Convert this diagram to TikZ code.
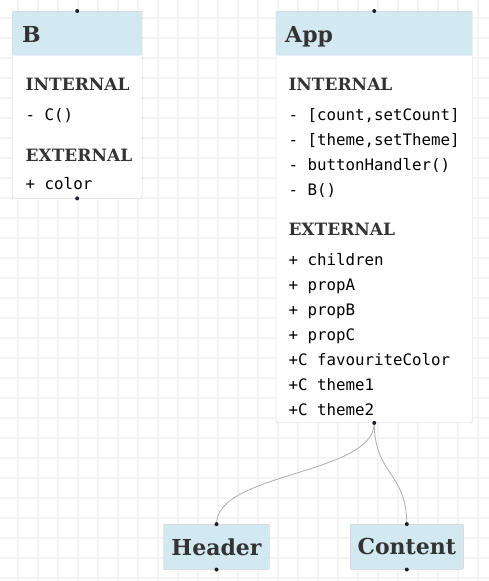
\documentclass[tikz,border=0pt]{standalone}
\usepackage{fontspec}
\setmainfont{DejaVu Serif}
\setmonofont{DejaVu Sans Mono}
\usetikzlibrary{positioning}

\definecolor{headblue}{HTML}{D3E9F1}
\definecolor{boxline}{HTML}{CFCFCF}
\definecolor{gridgray}{HTML}{F4F4F4}
\definecolor{txtgray}{HTML}{333333}
\definecolor{dotnavy}{HTML}{1E1E2C}
\definecolor{wiregray}{HTML}{ADADAD}

\tikzset{
    classbox/.style={draw=boxline, fill=white, rounded corners=2pt, inner sep=0,
        anchor=north west,
        path picture={\fill[headblue] (path picture bounding box.north west)
            rectangle ([yshift=-44.5pt]path picture bounding box.north east);}},
    smallbox/.style={draw=boxline, fill=headblue, rounded corners=1pt, inner sep=0,
        minimum height=45, font=\fontsize{22}{24}\selectfont\bfseries, text=txtgray},
    title/.style={anchor=base west, inner sep=0, text=txtgray,
        font=\fontsize{22}{24}\selectfont\bfseries},
    section/.style={anchor=base west, inner sep=0, text=txtgray,
        font=\fontsize{17}{20}\selectfont\bfseries},
    member/.style={anchor=base west, inner sep=0, text=black,
        font=\fontsize{15.8}{18}\ttfamily},
    wire/.style={draw=wiregray, line width=0.8pt},
    pin/.style={fill=dotnavy}
}

\begin{document}
\begin{tikzpicture}[x=1pt, y=-1pt]
    \useasboundingbox (0,0) rectangle (489,581);
    \fill[white] (0,0) rectangle (489,581);

    % background grid
    \foreach \gx in {18,38,...,478}
        \draw[gridgray, line width=1.3pt] (\gx,0) -- (\gx,581);
    \foreach \gy in {18,38,...,578}
        \draw[gridgray, line width=1.3pt] (0,\gy) -- (489,\gy);

    % B
    \node[classbox, minimum width=130, minimum height=187] (B) at (12,11) {};
    \node[title] (Btitle) at (22,42.7) {B};
    \node[section] (Bint) at (25.5,90) {INTERNAL};
    \node[member] (Bi1) at (25.5,120) {- C()};
    \node[section] (Bext) at (25.5,161) {EXTERNAL};
    \node[member] (Be1) at (25.5,189) {+ color};

    % App
    \node[classbox, minimum width=196.5, minimum height=411.5] (App) at (275.8,11) {};
    \node[title] (Apptitle) at (285,42.7) {App};
    \node[section] (Appint) at (288.3,90) {INTERNAL};
    \foreach \m [count=\i] in {{- [count,setCount]},{- [theme,setTheme]},{- buttonHandler()},{- B()}}
        \node[member] (Appi\i) at (288.3,95+25*\i) {\m};
    \node[section] (Appext) at (288.3,235.7) {EXTERNAL};
    \foreach \m [count=\i] in {+ children,+ propA,+ propB,+ propC,+C favouriteColor,+C theme1,+C theme2}
        \node[member] (Appe\i) at (288.3,240+25*\i) {\m};

    % children
    \node[smallbox, minimum width=106] (Header) at (216.5,546.8) {Header};
    \node[smallbox, minimum width=113] (Content) at (406.8,546.8) {Content};

    % connectors
    \draw[wire] (App.south) .. controls ([yshift=-52pt]App.south)
        and ([yshift=52pt]Header.north) .. (Header.north);
    \draw[wire] (App.south) .. controls ([yshift=-52pt]App.south)
        and ([yshift=52pt]Content.north) .. (Content.north);

    % pins
    \foreach \p in {B.north,B.south,App.north,App.south,Header.north,Header.south,Content.north,Content.south}
        \fill[pin] (\p) circle (2pt);
\end{tikzpicture}
\end{document}
